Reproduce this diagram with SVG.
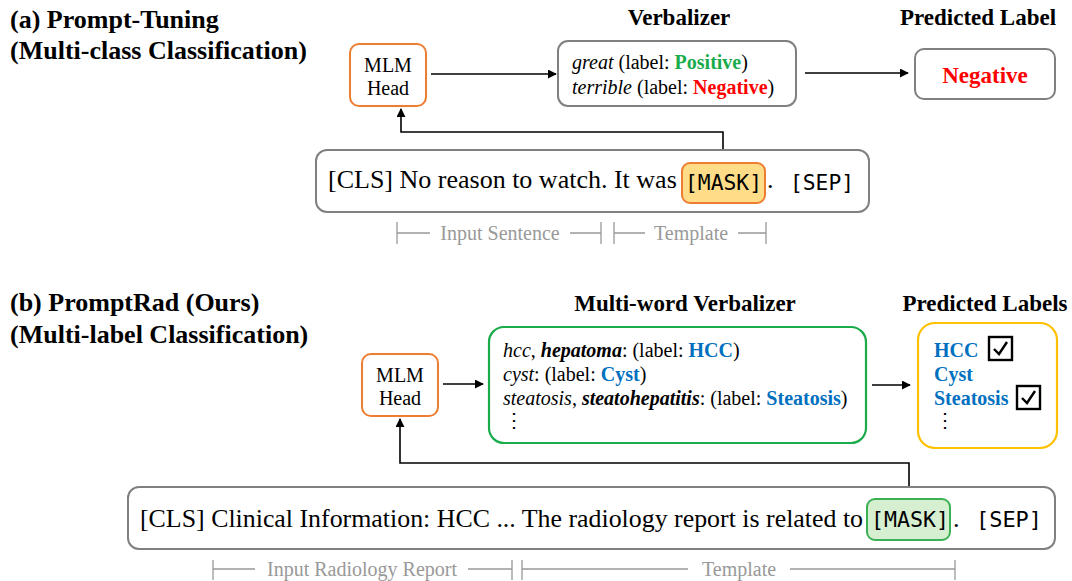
<svg xmlns="http://www.w3.org/2000/svg" width="1072" height="581" viewBox="0 0 1072 581">
<defs>
<marker id="ah" viewBox="0 0 10 10" refX="9" refY="5" markerWidth="9" markerHeight="9" markerUnits="userSpaceOnUse" orient="auto"><path d="M0,0 L10,5 L0,10 z" fill="#000"/></marker>
<style>
.title{font-family:"Liberation Serif",serif;font-weight:bold;font-size:26px;fill:#000}
.hdr{font-family:"Liberation Serif",serif;font-weight:bold;font-size:23px;fill:#000;text-anchor:middle}
.t{font-family:"Liberation Serif",serif;font-size:20px;fill:#000}
.v{font-family:"Liberation Serif",serif;font-size:20px;fill:#000}
.big{font-family:"Liberation Serif",serif;font-size:26px;fill:#000}
.mono{font-family:"DejaVu Sans Mono",monospace;font-size:22px;fill:#000}
.gray{font-family:"Liberation Serif",serif;font-size:20px;fill:#999}
.gl{stroke:#999;stroke-width:1.3;fill:none}
.conn{stroke:#000;stroke-width:1.6;fill:none}
.mlm{fill:#fff;stroke:#ED7D31;stroke-width:2}
.gbox{fill:#fff;stroke:#808080;stroke-width:2}
.blue{fill:#0070C0;font-weight:bold}
</style>
</defs>
<rect width="1072" height="581" fill="#fff"/>

<text class="title" x="10" y="28">(a) Prompt-Tuning</text>
<text class="title" x="10" y="59">(Multi-class Classification)</text>
<text class="title" x="10" y="311">(b) PromptRad (Ours)</text>
<text class="title" x="10" y="343">(Multi-label Classification)</text>

<g id="connectors">
<line class="conn" x1="431" y1="74" x2="556" y2="74" marker-end="url(#ah)"/>
<line class="conn" x1="805" y1="73" x2="908" y2="73" marker-end="url(#ah)"/>
<polyline class="conn" points="723,163 723,132 401,132 401,109" marker-end="url(#ah)"/>
<line class="conn" x1="443" y1="384" x2="483" y2="384" marker-end="url(#ah)"/>
<line class="conn" x1="872" y1="385" x2="910" y2="385" marker-end="url(#ah)"/>
<polyline class="conn" points="909,499 909,463 400,463 400,419" marker-end="url(#ah)"/>
</g>

<g id="mlm-a">
<rect class="mlm" x="350" y="44" width="76" height="62" rx="9"/>
<text class="t" x="388" y="72" text-anchor="middle">MLM</text>
<text class="t" x="388" y="95" text-anchor="middle">Head</text>
</g>

<g id="verbalizer-a">
<text class="hdr" x="679" y="25">Verbalizer</text>
<rect class="gbox" x="558" y="41" width="238" height="65" rx="10"/>
<text class="t" x="572" y="69"><tspan font-style="italic">great</tspan> (label: <tspan fill="#1AAB4B" font-weight="bold">Positive</tspan>)</text>
<text class="t" x="572" y="94"><tspan font-style="italic">terrible</tspan> (label: <tspan fill="#FF0000" font-weight="bold">Negative</tspan>)</text>
</g>

<g id="pred-a">
<text class="hdr" x="978" y="25">Predicted Label</text>
<rect class="gbox" x="915" y="49" width="140" height="50" rx="9"/>
<text x="985" y="83" text-anchor="middle" font-family="Liberation Serif, serif" font-weight="bold" font-size="23" fill="#FF0000">Negative</text>
</g>

<g id="sentence-a">
<rect class="gbox" x="316" y="150" width="553" height="62" rx="11"/>
<text class="big" x="328" y="188">[CLS] No reason to watch. It was</text>
<rect x="682" y="163" width="83" height="40" rx="8" fill="#FFDD88" stroke="#ED7D31" stroke-width="2"/>
<text class="mono" x="685" y="190" textLength="77" lengthAdjust="spacingAndGlyphs">[MASK]</text>
<text class="big" x="767" y="188">.</text>
<text class="mono" x="790" y="190" textLength="64" lengthAdjust="spacingAndGlyphs">[SEP]</text>
</g>

<g id="span-a">
<path class="gl" d="M397,222 V244 M397,233 H430 M570,233 H601 M601,222 V244 M614,222 V244 M614,233 H645 M738,233 H766 M766,222 V244"/>
<text class="gray" x="500" y="240" text-anchor="middle">Input Sentence</text>
<text class="gray" x="691" y="240" text-anchor="middle">Template</text>
</g>

<g id="mlm-b">
<rect class="mlm" x="362" y="354" width="76" height="62" rx="9"/>
<text class="t" x="400" y="382" text-anchor="middle">MLM</text>
<text class="t" x="400" y="405" text-anchor="middle">Head</text>
</g>

<g id="verbalizer-b">
<text class="hdr" x="685" y="311">Multi-word Verbalizer</text>
<rect x="489" y="327" width="377" height="116" rx="15" fill="#fff" stroke="#1AAB4B" stroke-width="2.2"/>
<text class="v" x="503" y="357"><tspan font-style="italic">hcc</tspan>, <tspan font-style="italic" font-weight="bold">hepatoma</tspan>: (label: <tspan class="blue">HCC</tspan>)</text>
<text class="v" x="503" y="381"><tspan font-style="italic">cyst</tspan>: (label: <tspan class="blue">Cyst</tspan>)</text>
<text class="v" x="503" y="405"><tspan font-style="italic">steatosis</tspan>, <tspan font-style="italic" font-weight="bold">steatohepatitis</tspan>: (label: <tspan class="blue">Steatosis</tspan>)</text>
<text class="v" x="504" y="427">⋮</text>
</g>

<g id="pred-b">
<text class="hdr" x="985" y="311">Predicted Labels</text>
<rect x="918" y="323" width="139" height="125" rx="17" fill="#fff" stroke="#FFC000" stroke-width="2.2"/>
<text class="t blue" x="934" y="357">HCC</text>
<text class="t blue" x="934" y="381">Cyst</text>
<text class="t blue" x="934" y="405">Steatosis</text>
<text class="v" x="935" y="427">⋮</text>
<rect x="989" y="337" width="23" height="23" fill="#fff" stroke="#000" stroke-width="2.4"/>
<path d="M994,349 L999,354 L1007,342" fill="none" stroke="#000" stroke-width="2.4"/>
<rect x="1017" y="386" width="23" height="23" fill="#fff" stroke="#000" stroke-width="2.4"/>
<path d="M1022,398 L1027,403 L1035,391" fill="none" stroke="#000" stroke-width="2.4"/>
</g>

<g id="sentence-b">
<rect class="gbox" x="128" y="487" width="927" height="62" rx="11"/>
<text class="big" x="140" y="527" textLength="723" lengthAdjust="spacingAndGlyphs">[CLS] Clinical Information: HCC ... The radiology report is related to</text>
<rect x="867" y="499" width="83" height="41" rx="8" fill="#D5EFD0" stroke="#3CB054" stroke-width="2"/>
<text class="mono" x="871" y="527" font-size="23" textLength="78" lengthAdjust="spacingAndGlyphs">[MASK]</text>
<text class="big" x="953" y="527">.</text>
<text class="mono" x="976" y="527" font-size="23" textLength="66" lengthAdjust="spacingAndGlyphs">[SEP]</text>
</g>

<g id="span-b">
<path class="gl" d="M213,560 V580 M213,569 H255 M468,569 H512 M512,560 V580 M522,560 V580 M522,569 H688 M790,569 H955 M955,560 V580"/>
<text class="gray" x="362" y="576" text-anchor="middle">Input Radiology Report</text>
<text class="gray" x="739" y="576" text-anchor="middle">Template</text>
</g>
</svg>
